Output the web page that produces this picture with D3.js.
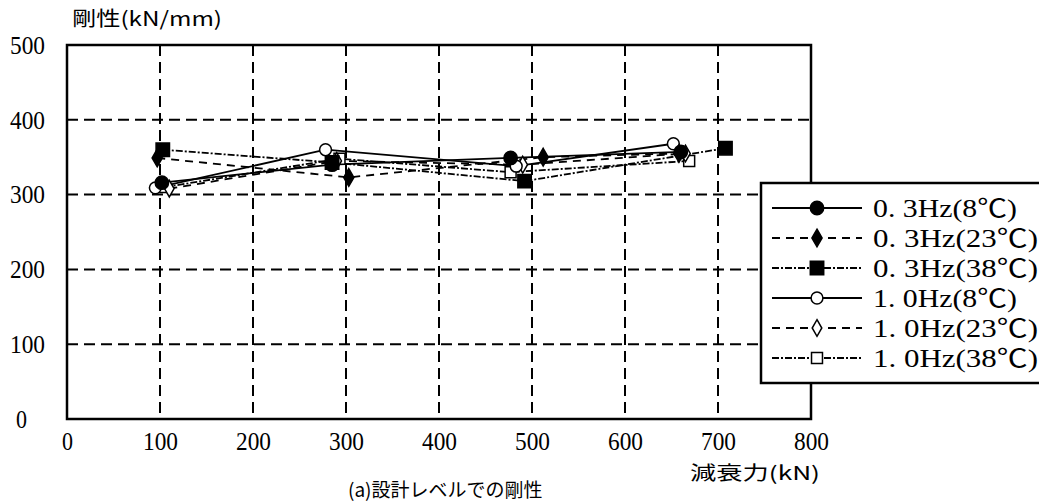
<!DOCTYPE html>
<html lang="ja"><head><meta charset="UTF-8">
<title>剛性</title>
<script src="https://cdn.jsdelivr.net/npm/d3@7"></script>
<style>
body { margin:0; background:#fff; }
text { fill:#000; }
</style>
</head>
<body>
<script>
// data (damping force kN, stiffness kN/mm)
var seriesNames = ["0. 3Hz(8℃)", "0. 3Hz(23℃)", "0. 3Hz(38℃)", "1. 0Hz(8℃)", "1. 0Hz(23℃)", "1. 0Hz(38℃)"];
var force_03_8  = [102, 285, 477, 660];
var stiff_03_8  = [316, 340, 349, 357];
var force_03_23 = [97, 303, 512, 658];
var stiff_03_23 = [349, 323, 350, 355];
var force_03_38 = [103, 285, 492, 708];
var stiff_03_38 = [360, 343, 318, 362];
var force_10_8  = [95, 278, 483, 652];
var stiff_10_8  = [309, 360, 338, 368];
var force_10_23 = [110, 290, 490, 665];
var stiff_10_23 = [308, 345, 340, 355];
var force_10_38 = [105, 293, 477, 669];
var stiff_10_38 = [310, 348, 330, 345];
var xTicks = [0, 100, 200, 300, 400, 500, 600, 700, 800];
var yTicks = [0, 100, 200, 300, 400, 500];

var w = 1039, h = 501;
var svg = d3.select("body").append("svg").attr("width", w).attr("height", h);

var x = d3.scaleLinear().domain([0, 800]).range([67, 811]);
var y = d3.scaleLinear().domain([0, 500]).range([419, 45]);

// grid
svg.append("g").selectAll("line").data(xTicks.slice(1, -1)).enter().append("line")
  .attr("x1", d => x(d)).attr("x2", d => x(d)).attr("y1", y(500)).attr("y2", y(0))
  .attr("stroke", "#000").attr("stroke-width", 2).attr("stroke-dasharray", "11,6");
svg.append("g").selectAll("line").data(yTicks.slice(1, -1)).enter().append("line")
  .attr("x1", x(0)).attr("x2", x(800)).attr("y1", d => y(d)).attr("y2", d => y(d))
  .attr("stroke", "#000").attr("stroke-width", 2).attr("stroke-dasharray", "11,6");

// frame
svg.append("rect").attr("x", x(0)).attr("y", y(500))
  .attr("width", x(800) - x(0)).attr("height", y(0) - y(500))
  .attr("fill", "none").attr("stroke", "#000").attr("stroke-width", 2.5);

// axes
var xAxis = svg.append("g").attr("transform", "translate(0," + y(0) + ")")
  .attr("font-family", "Liberation Serif")
  .call(d3.axisBottom(x).tickValues(xTicks).tickSize(0).tickPadding(13));
xAxis.select(".domain").remove();
xAxis.selectAll("text").style("font-family", "'Liberation Serif', serif").style("font-size", "26px")
  .attr("textLength", d => d == 0 ? 11 : 35).attr("lengthAdjust", "spacingAndGlyphs");

var yAxis = svg.append("g").attr("transform", "translate(" + x(0) + ",0)")
  .call(d3.axisLeft(y).tickValues(yTicks).tickSize(0));
yAxis.select(".domain").remove();
yAxis.selectAll("text").style("font-family", "'Liberation Serif', serif").style("font-size", "26px")
  .attr("text-anchor", "start").attr("x", d => d == 0 ? -51 : -57)
  .attr("textLength", d => d == 0 ? 11 : 35).attr("lengthAdjust", "spacingAndGlyphs");

// axis titles
svg.append("text").attr("x", 72).attr("y", 26).style("font-family", "'Noto Sans CJK JP'")
  .style("font-size", "20px").attr("textLength", 150).attr("lengthAdjust", "spacingAndGlyphs")
  .text("剛性(kN/mm)");
svg.append("text").attr("x", 690).attr("y", 480).style("font-family", "'Noto Sans CJK JP'")
  .style("font-size", "19px").attr("textLength", 130).attr("lengthAdjust", "spacingAndGlyphs")
  .text("減衰力(kN)");
svg.append("text").attr("x", 348).attr("y", 497).style("font-family", "'Noto Sans CJK JP'")
  .style("font-size", "19px").text("(a)設計レベルでの剛性");

// series
var series = [
  {name: seriesNames[0], xs: force_03_8,  ys: stiff_03_8,  dash: null,      shape: "circle",  fill: "#000"},
  {name: seriesNames[1], xs: force_03_23, ys: stiff_03_23, dash: "8,6",     shape: "diamond", fill: "#000"},
  {name: seriesNames[2], xs: force_03_38, ys: stiff_03_38, dash: "7,2,2,2", shape: "square",  fill: "#000"},
  {name: seriesNames[3], xs: force_10_8,  ys: stiff_10_8,  dash: null,      shape: "circle",  fill: "#fff"},
  {name: seriesNames[4], xs: force_10_23, ys: stiff_10_23, dash: "8,6",     shape: "diamond", fill: "#fff"},
  {name: seriesNames[5], xs: force_10_38, ys: stiff_10_38, dash: "7,2,2,2", shape: "square",  fill: "#fff"}
];

var line = d3.line().x(d => x(d[0])).y(d => y(d[1]));
var symbols = {
  circle: d3.symbol().type(d3.symbolCircle).size(140),
  diamond: d3.symbol().type(d3.symbolDiamond).size(90),
  square: d3.symbol().type(d3.symbolSquare).size(180)
};
var openSymbols = {
  circle: d3.symbol().type(d3.symbolCircle).size(110),
  diamond: d3.symbol().type(d3.symbolDiamond).size(80),
  square: d3.symbol().type(d3.symbolSquare).size(120)
};
function sym(s) { return s.fill == "#000" ? symbols[s.shape]() : openSymbols[s.shape](); }

series.forEach(function(s) {
  var pts = s.xs.map((v, i) => [v, s.ys[i]]);
  svg.append("path").attr("d", line(pts)).attr("fill", "none")
    .attr("stroke", "#000").attr("stroke-width", 1.8)
    .attr("stroke-dasharray", s.dash);
});
series.slice().reverse().forEach(function(s) {
  var pts = s.xs.map((v, i) => [v, s.ys[i]]);
  svg.append("g").selectAll("path").data(pts).enter().append("path")
    .attr("transform", d => "translate(" + x(d[0]) + "," + y(d[1]) + ")")
    .attr("d", sym(s)).attr("fill", s.fill).attr("stroke", "#000").attr("stroke-width", 1.5);
});

// legend
var lg = svg.append("g");
lg.append("rect").attr("x", 761).attr("y", 183).attr("width", 300).attr("height", 200)
  .attr("fill", "#fff").attr("stroke", "#000").attr("stroke-width", 2.5);
series.forEach(function(s, i) {
  var ly = 208 + i * 30;
  lg.append("line").attr("x1", 772).attr("x2", 862).attr("y1", ly).attr("y2", ly)
    .attr("stroke", "#000").attr("stroke-width", 1.8).attr("stroke-dasharray", s.dash);
  lg.append("path").attr("transform", "translate(817," + ly + ")").attr("d", sym(s))
    .attr("fill", s.fill).attr("stroke", "#000").attr("stroke-width", 1.5);
  lg.append("text").attr("x", 873).attr("y", ly + 9)
    .style("font-family", "'Liberation Serif', 'Noto Sans CJK JP', serif")
    .style("font-size", "25px").attr("textLength", s.name.indexOf("(8") > 0 ? 144 : 165)
    .attr("lengthAdjust", "spacingAndGlyphs").text(s.name);
});
</script>
</body></html>
